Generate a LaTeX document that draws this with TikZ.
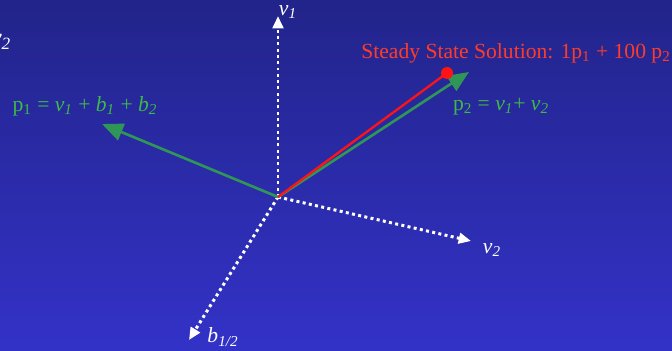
\documentclass[tikz,border=0pt]{standalone}
\usepackage{fontspec}
\setmainfont{Liberation Serif}
\usetikzlibrary{arrows.meta}
\definecolor{Top}{RGB}{34,36,138}
\definecolor{Bot}{RGB}{51,50,200}
\definecolor{Vec}{RGB}{48,150,88}
\definecolor{VecText}{RGB}{62,186,70}
\definecolor{Sol}{RGB}{255,20,20}
\definecolor{SolText}{RGB}{255,60,40}

\begin{document}
\begin{tikzpicture}[x=0.02cm,y=-0.02cm,
 ax/.style={white,line width=1.7pt,dash pattern=on 1.7pt off 1.9pt,-{Triangle[length=7pt,width=6pt]}},
 vec/.style={Vec,line width=1.5pt,-{Triangle[length=12pt,width=10pt]}},
 t/.style={font=\fontsize{12.3}{14}\selectfont,inner sep=1pt}]
\shade[top color=Top,bottom color=Bot] (0,0) rectangle (672,351);
\useasboundingbox (0,0) rectangle (672,351);
\coordinate (o) at (278,197);
\coordinate (v1) at (278,16);
\coordinate (v2) at (471,241);
\coordinate (b) at (189,340);
\coordinate (p1) at (102,124);
\coordinate (p2) at (469,72);
\coordinate (ss) at (447,73);
\draw[ax] (o)--(v1); \draw[ax] (o)--(v2); \draw[ax] (o)--(b);
\draw[vec] (o)--(p1); \draw[vec] (o)--(p2);
\draw[Sol,line width=1.3pt] (o)--(ss);
\fill[Sol] (ss) circle (6);
\node[t,white] (lv1) at (288,12) {\textit{v\textsubscript{1}}};
\node[t,white] (lv2) at (492,250) {\textit{v\textsubscript{2}}};
\node[t,white] (lb) at (223,337) {\textit{b\textsubscript{1/2}}};
\node[t,white,font=\fontsize{14}{16}\selectfont] (lcut) at (1,42) {\textit{v\textsubscript{2}}};
\node[t,VecText] (lp1) at (85,106) {p\textsubscript{1} = \textit{v\textsubscript{1}} + \textit{b\textsubscript{1}} + \textit{b\textsubscript{2}}};
\node[t,VecText] (lp2) at (501,107) {p\textsubscript{2} = \textit{v\textsubscript{1}}+ \textit{v\textsubscript{2}}};
\node[t,SolText] (lss) at (516,53) {Steady State Solution: 1p\textsubscript{1} + 100 p\textsubscript{2}};
\end{tikzpicture}
\end{document}
